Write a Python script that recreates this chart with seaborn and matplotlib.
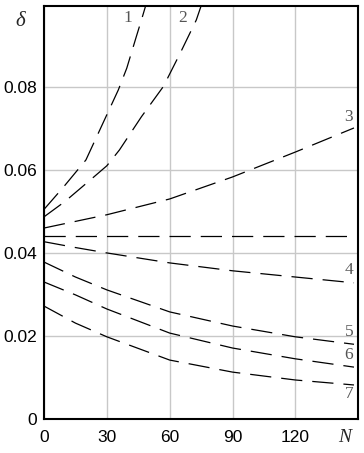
import matplotlib
matplotlib.use("Agg")
import matplotlib.pyplot as plt
import seaborn as sns
import pandas as pd

# ---- data ----
N1 = [0, 9, 20, 30, 35.5, 39.5, 44, 46.5, 48.5]
d1 = [0.0505, 0.0557, 0.0624, 0.0733, 0.0793, 0.0845, 0.0920, 0.0961, 0.0995]
N2 = [0, 10, 24, 30, 36, 46.5, 57, 65, 72.7, 75]
d2 = [0.0487, 0.0524, 0.0584, 0.0610, 0.0648, 0.0728, 0.0801, 0.0881, 0.0961, 0.0995]
N3 = [0, 30, 60, 90, 120, 148]
d3 = [0.0460, 0.0492, 0.0530, 0.0583, 0.0643, 0.0701]
N0 = [0, 150]
d0 = [0.0442, 0.0442]
N4 = [0, 15, 30, 60, 90, 120, 148]
d4 = [0.0427, 0.0413, 0.0400, 0.0376, 0.0357, 0.0342, 0.0328]
N5 = [0, 15, 30, 60, 90, 120, 148]
d5 = [0.0378, 0.0342, 0.0311, 0.0258, 0.0224, 0.0198, 0.0180]
N6 = [0, 15, 30, 60, 90, 120, 148]
d6 = [0.0330, 0.0299, 0.0265, 0.0207, 0.0171, 0.0145, 0.0125]
N7 = [0, 15, 30, 60, 90, 120, 148]
d7 = [0.0272, 0.0231, 0.0198, 0.0142, 0.0113, 0.0094, 0.0082]

curve_labels = ["1", "2", "3", "4", "5", "6", "7"]
label_x = [40, 66, 145.5, 145.5, 145.5, 145.5, 145.5]
label_y = [0.0966, 0.0966, 0.0728, 0.0359, 0.0210, 0.0154, 0.0060]

x_ticks = [0, 30, 60, 90, 120]
y_ticks = [0, 0.02, 0.04, 0.06, 0.08]
y_ticklabels = ["0", "0.02", "0.04", "0.06", "0.08"]

series = [("1", N1, d1), ("2", N2, d2), ("3", N3, d3), ("0", N0, d0),
          ("4", N4, d4), ("5", N5, d5), ("6", N6, d6), ("7", N7, d7)]

sns.set_theme(style="white")
plt.rcParams["font.family"] = ["Liberation Sans", "DejaVu Sans"]

fig = plt.figure(figsize=(3.64, 4.53), dpi=100)
ax = fig.add_axes([0.121, 0.075, 0.863, 0.912])

for name, xs, ys in series:
    df = pd.DataFrame({"N": xs, "d": ys})
    sns.lineplot(data=df, x="N", y="d", ax=ax, color="black", lw=0.9,
                 linestyle=(0, (17, 8)), sort=False, estimator=None)

ax.set_xlim(0, 150)
ax.set_ylim(0, 0.0995)
ax.set_xticks(x_ticks)
ax.set_xticklabels([str(t) for t in x_ticks])
ax.set_yticks(y_ticks)
ax.set_yticklabels(y_ticklabels)
ax.tick_params(axis="both", length=0, labelsize=12.5, colors="black")
ax.tick_params(axis="x", pad=8)
ax.tick_params(axis="y", pad=5)
ax.grid(True, color="#c8c8c8", lw=1.0)
ax.set_axisbelow(True)
for s in ax.spines.values():
    s.set_visible(True)
    s.set_color("black")
    s.set_linewidth(1.5)
ax.set_xlabel("")
ax.set_ylabel("")

for lab, lx, ly in zip(curve_labels, label_x, label_y):
    ax.text(lx, ly, lab, color="#555555", fontsize=12.5, ha="center", va="center",
            family=["Liberation Serif", "DejaVu Serif"])

fig.text(20 / 364, 1 - 22 / 453, "δ", fontsize=15, style="italic", ha="center", va="center",
         family=["Liberation Serif", "DejaVu Serif"])
fig.text(345 / 364, 1 - 437 / 453, "N", fontsize=14, style="italic", ha="center", va="center",
         family=["Liberation Serif", "DejaVu Serif"])

fig.savefig("out.png", dpi=100)
